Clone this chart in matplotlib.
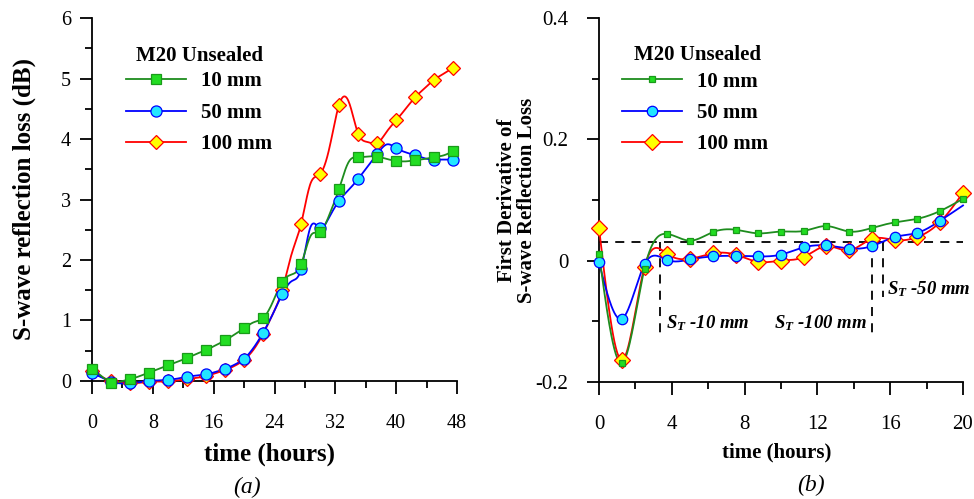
import numpy as np
import matplotlib
matplotlib.use("Agg")
import matplotlib.pyplot as plt

plt.rcParams['font.family'] = ['Liberation Serif', 'DejaVu Serif']
plt.rcParams['mathtext.fontset'] = 'custom'
plt.rcParams['mathtext.it'] = 'Liberation Serif:italic:bold'
plt.rcParams['mathtext.rm'] = 'Liberation Serif:bold'

# ---- (a) S-wave reflection loss, line samples every 1.25 h, markers every 2.5 h
hours_a = [0, 1.25, 2.5, 3.75, 5, 6.25, 7.5, 8.75, 10, 11.25, 12.5, 13.75, 15,
           16.25, 17.5, 18.75, 20, 21.25, 22.5, 23.75, 25, 26.25, 27.5, 28.75,
           30, 31.25, 32.5, 33.75, 35, 36.25, 37.5, 38.75, 40, 41.25, 42.5,
           43.75, 45, 46.25, 47.5]
loss_10 = [0.20, 0.08, -0.03, -0.01, 0.03, 0.08, 0.14, 0.20, 0.26, 0.32, 0.38,
           0.45, 0.51, 0.59, 0.67, 0.77, 0.87, 0.97, 1.04, 1.30, 1.64, 1.76,
           1.93, 2.40, 2.46, 2.76, 3.18, 3.62, 3.70, 3.71, 3.71, 3.67, 3.64,
           3.63, 3.65, 3.67, 3.70, 3.73, 3.80]
loss_50 = [0.13, 0.06, -0.01, -0.04, -0.04, -0.02, 0.00, 0.01, 0.02, 0.04, 0.07,
           0.09, 0.11, 0.15, 0.20, 0.27, 0.37, 0.55, 0.80, 1.10, 1.43, 1.65,
           1.85, 2.55, 2.53, 2.72, 2.98, 3.16, 3.34, 3.55, 3.75, 3.91, 3.85,
           3.78, 3.73, 3.68, 3.66, 3.66, 3.66]
loss_100 = [0.16, 0.07, 0.00, -0.03, -0.03, -0.03, -0.01, -0.01, 0.00, 0.01,
            0.03, 0.05, 0.08, 0.13, 0.18, 0.25, 0.35, 0.52, 0.78, 1.10, 1.50,
            2.10, 2.60, 3.27, 3.42, 3.87, 4.57, 4.62, 4.09, 3.95, 3.93, 4.12,
            4.31, 4.50, 4.69, 4.84, 4.98, 5.08, 5.18]

# ---- (b) first derivative, every 1.25 h
hours_b = [0, 1.25, 2.5, 3.75, 5, 6.25, 7.5, 8.75, 10, 11.25, 12.5, 13.75, 15,
           16.25, 17.5, 18.75, 20]
deriv_10 = [0.011, -0.169, -0.013, 0.044, 0.033, 0.047, 0.051, 0.045, 0.048,
            0.049, 0.057, 0.048, 0.054, 0.063, 0.069, 0.082, 0.102]
deriv_50 = [-0.003, -0.096, -0.006, 0.001, 0.002, 0.007, 0.008, 0.007, 0.010,
            0.022, 0.025, 0.020, 0.024, 0.039, 0.046, 0.066, 0.091]
deriv_100 = [0.054, -0.164, -0.010, 0.011, 0.003, 0.012, 0.010, -0.002, 0.000,
             0.006, 0.024, 0.017, 0.036, 0.034, 0.039, 0.064, 0.112]

threshold = 0.03
# onset times (h) and how far each dashed drop line reaches
onsets = [(3.35, -0.12), (15.0, -0.128), (15.6, -0.06)]
labels = ['10 mm', '50 mm', '100 mm']


def spline(x, y, n=500):
    # natural cubic spline, just to draw the smoothed line
    x = np.asarray(x, float)
    y = np.asarray(y, float)
    m = len(x)
    h = np.diff(x)
    A = np.zeros((m, m))
    b = np.zeros(m)
    A[0, 0] = A[-1, -1] = 1
    for i in range(1, m - 1):
        A[i, i - 1] = h[i - 1]
        A[i, i] = 2 * (h[i - 1] + h[i])
        A[i, i + 1] = h[i]
        b[i] = 6 * ((y[i + 1] - y[i]) / h[i] - (y[i] - y[i - 1]) / h[i - 1])
    M = np.linalg.solve(A, b)
    xs = np.linspace(x[0], x[-1], n)
    k = np.clip(np.searchsorted(x, xs) - 1, 0, m - 2)
    hk = h[k]
    a = x[k + 1] - xs
    c = xs - x[k]
    ys = (M[k] * a ** 3 + M[k + 1] * c ** 3) / (6 * hk) \
        + (y[k] / hk - M[k] * hk / 6) * a + (y[k + 1] / hk - M[k + 1] * hk / 6) * c
    return xs, ys


styles = {
    '10 mm': dict(color='#1e8c1e', marker='s', mfc='#22dd22', mec='#1a9a1a'),
    '50 mm': dict(color='#0000ff', marker='o', mfc='#22e6ff', mec='#0000ff'),
    '100 mm': dict(color='#ff0000', marker='D', mfc='#ffff00', mec='#ff0000'),
}


def draw(ax, x, y, name, ms, every):
    st = styles[name]
    xs, ys = spline(x, y)
    ax.plot(xs, ys, color=st['color'], lw=1.3, clip_on=False, zorder=3)
    ax.plot(np.asarray(x)[every], np.asarray(y)[every], ls='none',
            marker=st['marker'], ms=ms, mfc=st['mfc'], mec=st['mec'],
            mew=0.9, clip_on=False, zorder=4)
    h, = ax.plot([], [], color=st['color'], lw=1.3, marker=st['marker'],
                 ms=ms, mfc=st['mfc'], mec=st['mec'], mew=0.9)
    return h


def style_axes(ax, size, ypad):
    for s in ['top', 'right']:
        ax.spines[s].set_visible(False)
    for s in ['left', 'bottom']:
        ax.spines[s].set_linewidth(1.3)
    ax.tick_params(which='major', direction='out', length=9, width=1.3,
                   labelsize=size)
    ax.tick_params(which='minor', direction='out', length=5, width=1.3)
    ax.tick_params(axis='x', which='major', pad=15)
    ax.tick_params(axis='y', which='major', pad=ypad)


def add_legend(ax, handles, anchor, title_xy):
    leg = ax.legend(handles, labels, loc='upper left', bbox_to_anchor=anchor,
                    frameon=False, borderpad=0, borderaxespad=0,
                    handlelength=2.9, handletextpad=0.7, labelspacing=0.55,
                    prop={'weight': 'bold', 'size': 15})
    fig.text(title_xy[0] / 974, 1 - title_xy[1] / 499, 'M20 Unsealed',
             fontsize=15, fontweight='bold', ha='center', va='center')
    return leg


fig = plt.figure(figsize=(9.74, 4.99), dpi=100)

# ---------------- (a)
ax1 = fig.add_axes([0.0945, 0.2365, 0.3747, 0.7274])
every_a = slice(0, None, 2)
h100 = draw(ax1, hours_a, loss_100, '100 mm', 7.5, every_a)
h50 = draw(ax1, hours_a, loss_50, '50 mm', 8, every_a)
h10 = draw(ax1, hours_a, loss_10, '10 mm', 7.5, every_a)
ax1.set_xlim(0, 48)
ax1.set_ylim(0, 6)
ax1.set_xticks(np.arange(0, 49, 8))
ax1.set_xticks(np.arange(0, 49, 4), minor=True)
ax1.set_yticks(np.arange(0, 7, 1))
ax1.set_yticks(np.arange(0, 6.1, 0.5), minor=True)
style_axes(ax1, 14.5, 6)
ax1.set_xlabel('time (hours)', fontsize=18, fontweight='bold')
ax1.xaxis.set_label_coords(0.486, -0.171)
ax1.set_ylabel('S-wave reflection loss (dB)', fontsize=18, fontweight='bold')
ax1.yaxis.set_label_coords(-0.153, 0.501)
add_legend(ax1, [h10, h50, h100], (0.093, 0.853), (200, 56))

# ---------------- (b)
ax2 = fig.add_axes([0.615, 0.2345, 0.3737, 0.7294])
every_b = slice(0, None)
d100 = draw(ax2, hours_b, deriv_100, '100 mm', 8, every_b)
d50 = draw(ax2, hours_b, deriv_50, '50 mm', 7.5, slice(0, -1))
d10 = draw(ax2, hours_b, deriv_10, '10 mm', 4.5, every_b)
ax2.set_xlim(0, 20)
ax2.set_ylim(-0.2, 0.4)
ax2.set_xticks(np.arange(0, 21, 4))
ax2.set_xticks(np.arange(0, 21, 2), minor=True)
ax2.set_yticks([-0.2, 0, 0.2, 0.4])
ax2.set_yticklabels(['-0.2', '0', '0.2', '0.4'])
ax2.set_yticks(np.arange(-0.2, 0.41, 0.1), minor=True)
style_axes(ax2, 15, 13)
ax2.set_xlabel('time (hours)', fontsize=15, fontweight='bold')
ax2.xaxis.set_label_coords(0.489, -0.165)
ax2.set_ylabel('First Derivative of\nS-wave Reflection Loss', fontsize=15,
               fontweight='bold', linespacing=1.0)
ax2.yaxis.set_label_coords(-0.17, 0.5)

ax2.axhline(threshold, color='black', lw=1.3, ls=(0, (5, 4)), zorder=2)
for t, yb in onsets:
    ax2.plot([t, t], [threshold, yb], color='black', lw=1.3, ls=(0, (5, 4)),
             zorder=2)
ax2.text(3.7, -0.103, r'$S_T$ -10 mm', fontsize=13.5, fontweight='bold',
         style='italic', va='center', ha='left')
ax2.text(9.63, -0.103, r'$S_T$ -100 mm', fontsize=13.5, fontweight='bold',
         style='italic', va='center', ha='left')
ax2.text(15.8, -0.047, r'$S_T$ -50 mm', fontsize=13.5, fontweight='bold',
         style='italic', va='center', ha='left')
add_legend(ax2, [d10, d50, d100], (0.063, 0.853), (697, 55))

fig.text(247 / 974, 1 - 487 / 499, '(a)', fontsize=17, style='italic',
         ha='center', va='center')
fig.text(811 / 974, 1 - 485 / 499, '(b)', fontsize=17, style='italic',
         ha='center', va='center')

fig.savefig('out.png', dpi=100)
